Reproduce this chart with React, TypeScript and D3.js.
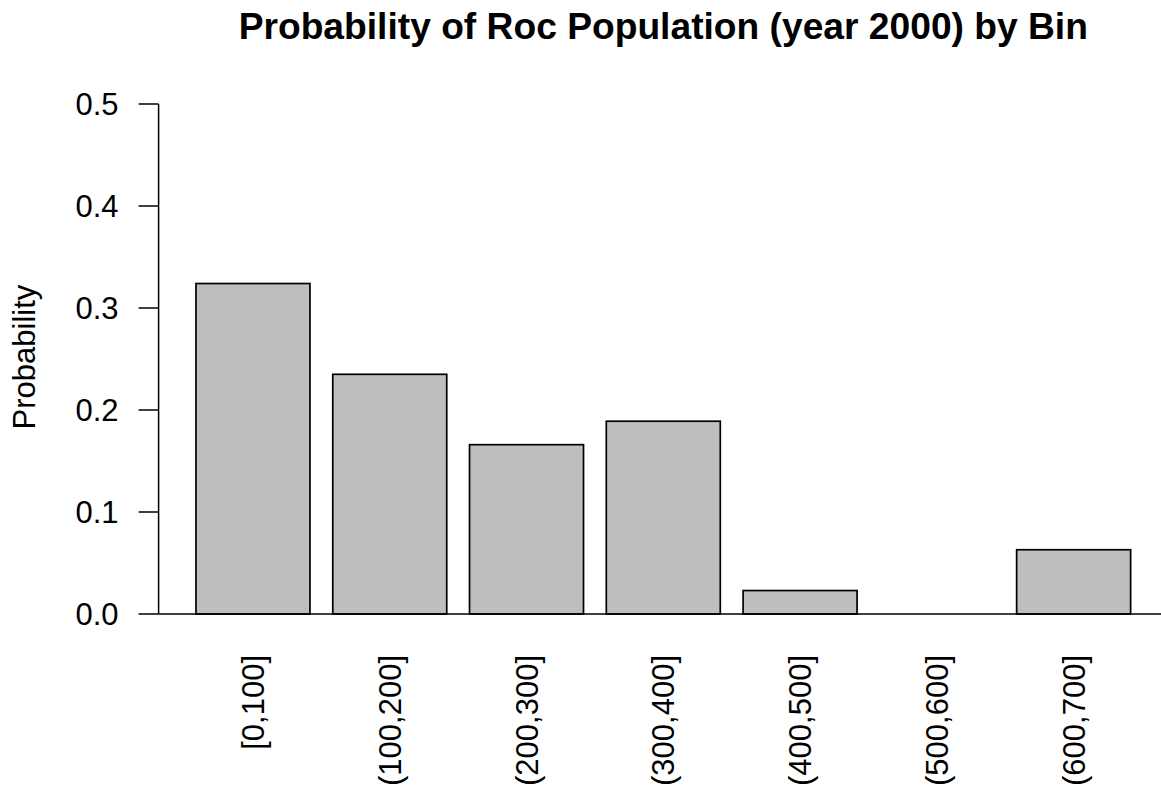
import React from "react";
import * as d3 from "d3";

// Probability of each population bin
const bins: string[] = ["[0,100]", "(100,200]", "(200,300]", "(300,400]", "(400,500]", "(500,600]", "(600,700]"];
const probabilities: number[] = [0.324, 0.235, 0.166, 0.189, 0.023, 0, 0.063];
const yTicks: number[] = [0, 0.1, 0.2, 0.3, 0.4, 0.5];

const title = "Probability of Roc Population (year 2000) by Bin";
const yLabel = "Probability";

const W = 1161;
const H = 788;
const FONT = "'Liberation Sans', Arial, Helvetica, sans-serif";
const BASE = 31;

export default function App() {
  const plotLeft = 158.6;
  const plotRight = 1168;

  const x = d3
    .scaleBand<string>()
    .domain(bins)
    .range([plotLeft, plotRight])
    .paddingInner(1 / 6)
    .paddingOuter(0.2733)
    .align(0.5);

  const y = d3.scaleLinear().domain([0, 0.5]).range([614, 104]);
  const fmt = d3.format(".1f");

  const bw = x.bandwidth();
  const y0 = y(0);

  return (
    <svg
      width={W}
      height={H}
      viewBox={`0 0 ${W} ${H}`}
      style={{ position: "absolute", left: 0, top: 0, background: "#fff", display: "block" }}
    >
      <rect x={0} y={0} width={W} height={H} fill="#fff" />
      {/* title */}
      <text
        x={(plotLeft + plotRight) / 2}
        y={38.5}
        textAnchor="middle"
        fontFamily={FONT}
        fontWeight="bold"
        fontSize={BASE * 1.2}
        fill="#000"
      >
        {title}
      </text>

      {/* bars */}
      {probabilities.map((v, i) => {
        const top = y(v);
        return (
          <rect
            key={bins[i]}
            x={x(bins[i])}
            y={top}
            width={bw}
            height={y0 - top}
            fill="#BEBEBE"
            stroke="#000"
            strokeWidth={1.7}
          />
        );
      })}

      {/* baseline at zero */}
      <line x1={plotLeft} x2={W} y1={y0} y2={y0} stroke="#000" strokeWidth={1.5} />

      {/* y axis */}
      <line x1={plotLeft} x2={plotLeft} y1={y(0)} y2={y(0.5)} stroke="#000" strokeWidth={1.5} />
      {yTicks.map((t) => (
        <g key={t}>
          <line x1={plotLeft - 20} x2={plotLeft} y1={y(t)} y2={y(t)} stroke="#000" strokeWidth={1.5} />
          <text
            x={118.5}
            y={y(t) + 11}
            textAnchor="end"
            fontFamily={FONT}
            fontSize={BASE}
            fill="#000"
          >
            {fmt(t)}
          </text>
        </g>
      ))}

      {/* y axis title */}
      <text
        transform={`translate(35, 357) rotate(-90)`}
        textAnchor="middle"
        fontFamily={FONT}
        fontSize={BASE}
        fill="#000"
      >
        {yLabel}
      </text>

      {/* category labels, perpendicular to the axis */}
      {bins.map((b) => {
        const cx = (x(b) as number) + bw / 2 + 11;
        return (
          <text
            key={b}
            transform={`translate(${cx}, 655) rotate(-90)`}
            textAnchor="end"
            fontFamily={FONT}
            fontSize={BASE}
            fill="#000"
          >
            {b}
          </text>
        );
      })}
    </svg>
  );
}
